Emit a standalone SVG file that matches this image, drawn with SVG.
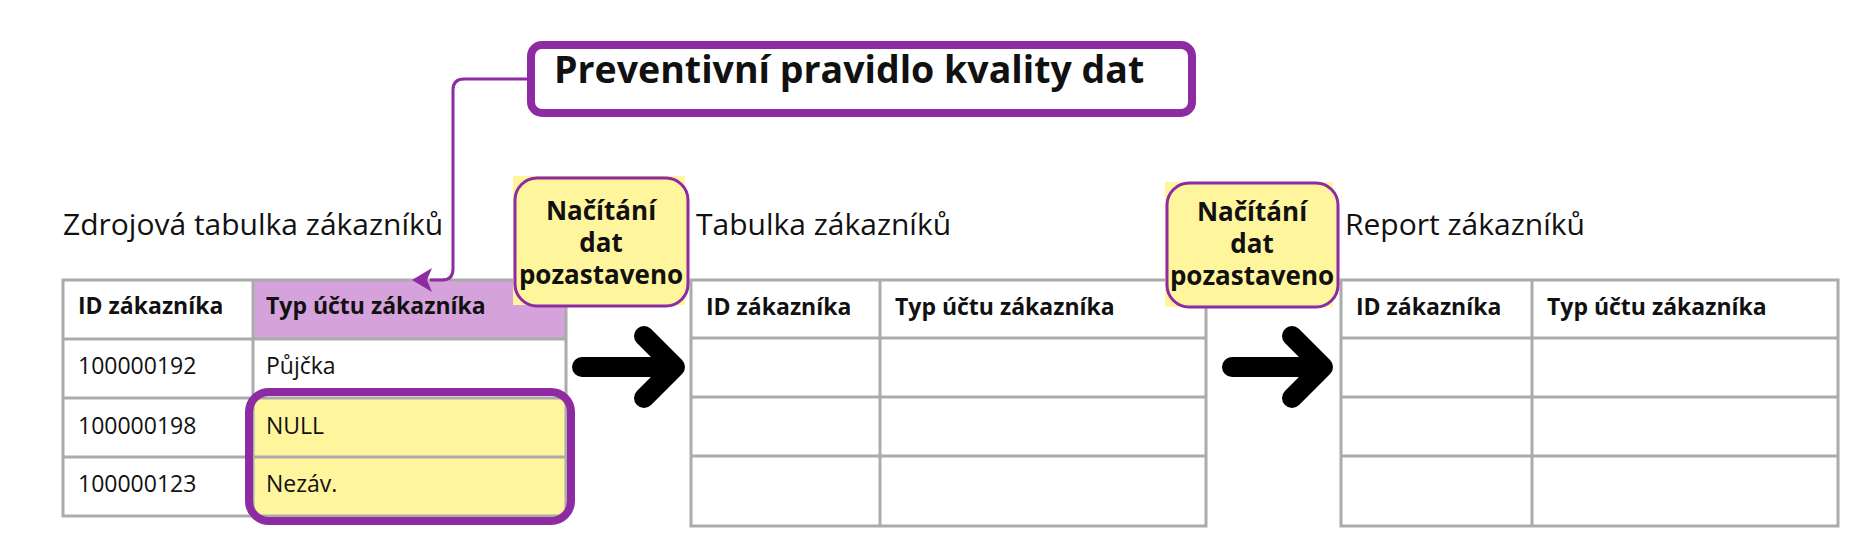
<svg xmlns="http://www.w3.org/2000/svg" width="1868" height="560" viewBox="0 0 1868 560">
<defs>
<style>
text{font-family:"Open Sans","Noto Sans","Liberation Sans",sans-serif;fill:#111;}
.title{font-size:30px;}
.hdr{font-size:23px;font-weight:700;}
.cell{font-size:23px;}
.boxt{font-size:26px;font-weight:700;text-anchor:middle;}
.grid{fill:none;stroke:#ababab;stroke-width:3;}
.pause-sq{fill:#fff59d;}
.pause{fill:#fff59d;stroke:#8e2ba3;stroke-width:3;}
.big{fill:none;stroke:#000;stroke-width:20;stroke-linecap:round;stroke-linejoin:round;}
</style>
<marker id="ah" markerUnits="userSpaceOnUse" markerWidth="22" markerHeight="24" refX="2" refY="12" orient="auto">
<path d="M0,0 L20,12 L0,24 L5,12 Z" fill="#8e2ba3"/>
</marker>
</defs>
<rect width="1868" height="560" fill="#fff"/>

<g id="rule">
<rect x="531" y="45" width="661" height="68" rx="11" fill="#fff" stroke="#8e2ba3" stroke-width="8"/>
<text x="554" y="83" style="font-size:37.5px;font-weight:700;">Preventivní pravidlo kvality dat</text>
</g>

<g id="source-table">
<text class="title" x="63" y="235">Zdrojová tabulka zákazníků</text>
<rect x="253" y="280" width="313" height="59" fill="#d5a2db"/>
<rect x="253" y="398" width="313" height="118" fill="#fff59d"/>
<rect class="grid" x="63" y="280" width="503" height="236"/>
<path class="grid" d="M253,280 V516 M63,339 H566 M63,398 H566 M63,457 H566"/>
<text class="hdr" x="78" y="314">ID zákazníka</text>
<text class="hdr" x="266" y="314">Typ účtu zákazníka</text>
<text class="cell" x="78" y="374">100000192</text>
<text class="cell" x="266" y="374">Půjčka</text>
<text class="cell" x="78" y="434">100000198</text>
<text class="cell" x="266" y="434">NULL</text>
<text class="cell" x="78" y="492">100000123</text>
<text class="cell" x="266" y="492">Nezáv.</text>
<rect x="249" y="392" width="322" height="129" rx="20" fill="none" stroke="#8e2ba3" stroke-width="8"/>
</g>

<g id="customer-table">
<text class="title" x="696" y="235">Tabulka zákazníků</text>
<rect class="grid" x="691" y="280" width="515" height="246"/>
<path class="grid" d="M880,280 V526 M691,338 H1206 M691,397 H1206 M691,456 H1206"/>
<text class="hdr" x="706" y="315">ID zákazníka</text>
<text class="hdr" x="895" y="315">Typ účtu zákazníka</text>
</g>

<g id="report-table">
<text class="title" x="1345" y="235">Report zákazníků</text>
<rect class="grid" x="1341" y="280" width="497" height="246"/>
<path class="grid" d="M1532,280 V526 M1341,338 H1838 M1341,397 H1838 M1341,456 H1838"/>
<text class="hdr" x="1356" y="315">ID zákazníka</text>
<text class="hdr" x="1547" y="315">Typ účtu zákazníka</text>
</g>

<g id="pause-1">
<rect class="pause-sq" x="513" y="176" width="172" height="129"/>
<rect class="pause" x="515" y="178" width="173" height="128" rx="22"/>
<text class="boxt" x="601" y="220">Načítání</text>
<text class="boxt" x="601" y="252">dat</text>
<text class="boxt" x="601" y="284">pozastaveno</text>
</g>

<g id="pause-2">
<rect class="pause-sq" x="1165" y="182" width="168" height="125"/>
<rect class="pause" x="1167" y="183" width="171" height="124" rx="22"/>
<text class="boxt" x="1252" y="221">Načítání</text>
<text class="boxt" x="1252" y="253">dat</text>
<text class="boxt" x="1252" y="285">pozastaveno</text>
</g>

<g id="connectors">
<path d="M527,79 H464 Q453,79 453,90 V269 Q453,280 442,280 H430" fill="none" stroke="#8e2ba3" stroke-width="3" marker-end="url(#ah)"/>
<path class="big" d="M582,367 H675 M644,336 L675,367 L644,398"/>
<path class="big" d="M1232,367 H1323 M1292,336 L1323,367 L1292,398"/>
</g>
</svg>
